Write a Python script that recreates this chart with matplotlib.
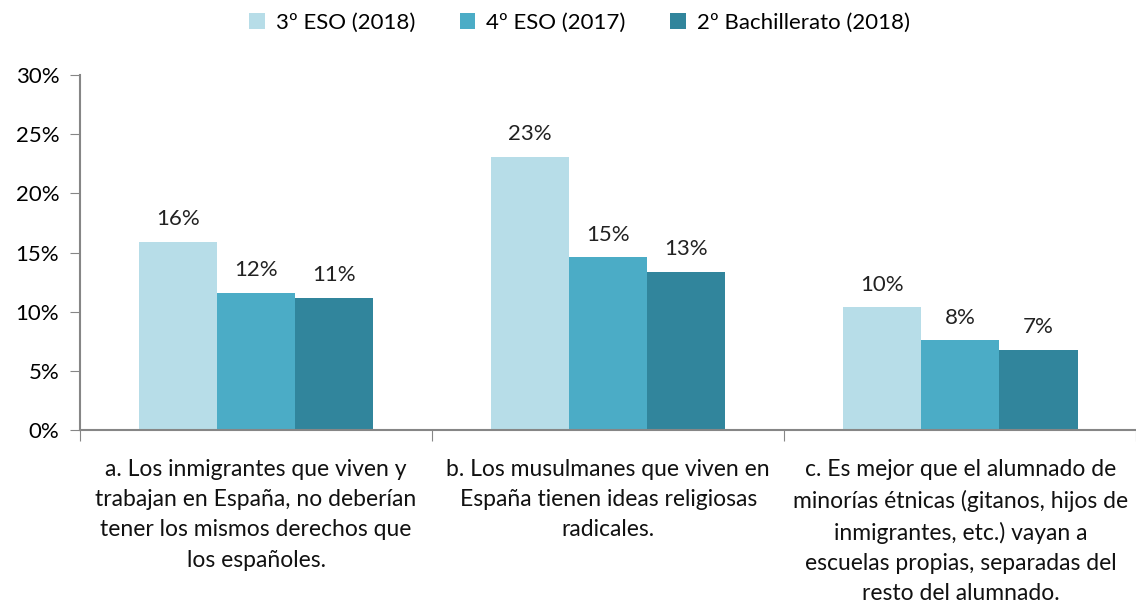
import matplotlib.pyplot as plt
import numpy as np

plt.rcParams['font.family'] = ['Lato', 'DejaVu Sans']

# Datos
categorias = [
    "a. Los inmigrantes que viven y\ntrabajan en España, no deberían\ntener los mismos derechos que\nlos españoles.",
    "b. Los musulmanes que viven en\nEspaña tienen ideas religiosas\nradicales.",
    "c. Es mejor que el alumnado de\nminorías étnicas (gitanos, hijos de\ninmigrantes, etc.) vayan a\nescuelas propias, separadas del\nresto del alumnado.",
]
series = ["3º ESO (2018)", "4º ESO (2017)", "2º Bachillerato (2018)"]
eso3 = [15.9, 23.1, 10.4]
eso4 = [11.6, 14.6, 7.6]
bach2 = [11.2, 13.4, 6.8]
etiquetas = [["16%", "23%", "10%"], ["12%", "15%", "8%"], ["11%", "13%", "7%"]]
colores = ["#B7DDE8", "#4BACC6", "#31859C"]

fig = plt.figure(figsize=(11.36, 6.05), dpi=100)
ax = fig.add_axes([0.0704, 0.289, 0.93, 0.587])

x = np.arange(len(categorias))
w = 0.222
for i, (vals, nombre) in enumerate(zip([eso3, eso4, bach2], series)):
    pos = x + (i - 1) * w
    ax.bar(pos, vals, width=w, color=colores[i], label=nombre)
    for p, v, t in zip(pos, vals, etiquetas[i]):
        ax.annotate(t, (p, v), xytext=(0, 9), textcoords='offset points',
                    ha='center', va='bottom', fontsize=16, color='#222222')

ax.set_xlim(-0.5, 2.5)
ax.set_ylim(0, 30)
ax.set_yticks(range(0, 31, 5))
ax.set_yticklabels([f"{v}%" for v in range(0, 31, 5)], fontsize=16)
ax.set_xticks(np.arange(-0.5, 2.6, 1.0))
ax.set_xticklabels([])
ax.tick_params(axis='x', direction='out', length=8, color='#868686')
ax.tick_params(axis='y', direction='out', length=7, color='#868686', pad=8)
for s in ['top', 'right']:
    ax.spines[s].set_visible(False)
for s in ['left', 'bottom']:
    ax.spines[s].set_color('#868686')
    ax.spines[s].set_linewidth(1.5)

for xi, texto in zip(x, categorias):
    ax.text(xi, -2.4, texto, ha='center', va='top', fontsize=16.5,
            linespacing=1.55, color='#111111')

fig.legend(loc='center', bbox_to_anchor=(0.51, 0.962), ncol=3, frameon=False,
           fontsize=16, handlelength=0.7, handleheight=0.7, columnspacing=2.0,
           handletextpad=0.5)

fig.savefig("out.png", dpi=100)
